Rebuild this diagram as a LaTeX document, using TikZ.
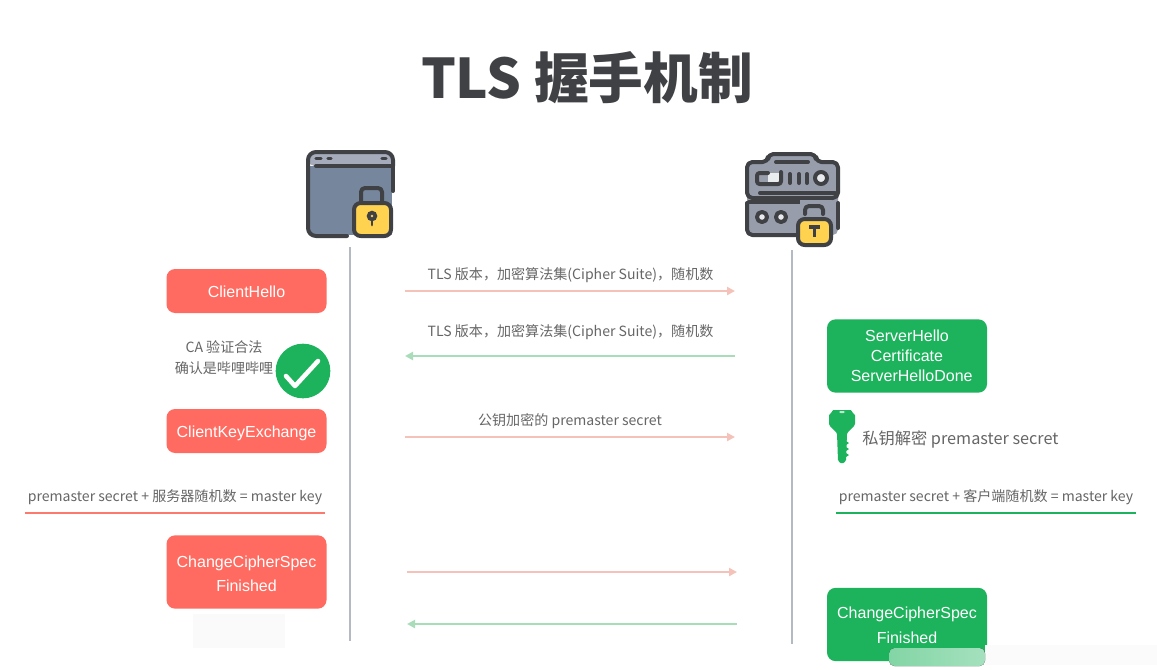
\documentclass[tikz,border=0pt]{standalone}
\usepackage{fontspec}
\setmainfont{Noto Sans CJK SC}
\newfontfamily\btnfont{Liberation Sans}
\usetikzlibrary{arrows.meta}
\definecolor{redbox}{HTML}{FF6B60}
\definecolor{greenbox}{HTML}{1DB35C}
\definecolor{pinkline}{HTML}{F4C2B8}
\definecolor{mintline}{HTML}{A9DDB9}
\definecolor{lifeline}{HTML}{B4BAC4}
\definecolor{ink}{HTML}{3F4145}
\definecolor{labelgray}{HTML}{666666}
\definecolor{iconblue}{HTML}{76869C}
\definecolor{iconlight}{HTML}{A5ABBA}
\definecolor{icongray}{HTML}{989DAC}
\definecolor{lockyellow}{HTML}{FFD24F}
\newcommand{\oneline}[1]{\raisebox{0pt}[10pt][0pt]{#1}}
\newcommand{\firstline}[2]{\raisebox{0pt}[#1][0pt]{#2}}
\newcommand{\lastline}[1]{\raisebox{0pt}[0pt][0pt]{#1}}
\tikzset{
  x=0.75pt,y=-0.75pt,
  redbtn/.style={fill=redbox,rounded corners=6.5pt,text=white,align=center,font=\btnfont\fontsize{12}{18}\selectfont,inner sep=0pt,anchor=center},
  greenbtn/.style={fill=greenbox,rounded corners=6.5pt,text=white,align=center,font=\btnfont\fontsize{12}{15}\selectfont,inner sep=0pt,anchor=center},
  msg/.style={text=labelgray,font=\fontsize{10.55}{12}\selectfont,anchor=center,inner sep=0pt},
  lifeln/.style={draw=lifeline,line width=1.9pt},
  toright/.style={draw=pinkline,line width=1.5pt,-{Triangle[length=6pt,width=6pt]}},
  togreen/.style={draw=mintline,line width=1.5pt,-{Triangle[length=6pt,width=6pt]}},
  icon/.style={draw=ink,line width=3pt,line cap=round,line join=round},
}
\begin{document}
\begin{tikzpicture}
\useasboundingbox (0,0) rectangle (1157,669);
\fill[white] (0,0) rectangle (1157,669);
% title
\node[text=ink,anchor=center,inner sep=0pt,font=\bfseries\fontsize{41}{50}\selectfont] (title) at (587,78) {TLS 握手机制};

% browser icon
\fill[iconblue] (309,166) rectangle (392,235);
\fill[iconlight,rounded corners=4pt] (309,152) rectangle (392,166);
\draw[icon,rounded corners=6pt] (347,236) -- (308,236) -- (308,152) -- (393,152) -- (393,166);
\draw[icon] (393,166) -- (393,191);
\draw[icon] (316,166) -- (392,166);
\draw[icon,line width=2.6pt] (316,158.5) -- (321,158.5) (328,158.5) -- (331,158.5) (382,158.5) -- (386,158.5);
\draw[icon,rounded corners=3pt] (361,205) -- (361,188) -- (382,188) -- (382,205);
\draw[icon,fill=lockyellow,rounded corners=5pt] (354,203) rectangle (391,236);
\fill[ink] (372,216) circle (4pt);
\draw[ink,line width=2pt,line cap=round] (372,218) -- (372,225);
\fill[lockyellow] (372,216) circle (1.1pt);

% server icon
\fill[icongray,rounded corners=4pt] (747,162) rectangle (838,235);
\fill[icongray] (768,154) rectangle (816,163);
\draw[icon,rounded corners=4pt] (768,162) -- (768,154) -- (816,154) -- (816,162) -- (838,162) -- (838,198) -- (747,198) -- (747,162) -- cycle;
\draw[icon,rounded corners=4pt] (747,203) -- (747,235) -- (797,235);
\draw[icon] (760,193) -- (835,193);
\draw[icon] (749,202) -- (800,202);
\draw[icon] (838,203) -- (838,228);
\draw[icon] (776,162) -- (808,162);
\fill[white!85!iconblue] (768,173) rectangle (781,184);
\draw[icon,rounded corners=2pt] (768,173) -- (757,173) -- (757,184) -- (781,184) -- (781,172);
\draw[icon] (790,174) -- (790,183) (799,174) -- (799,183) (807,174) -- (807,183);
\draw[icon,fill=white!75!iconlight] (821,178) circle (4.5pt);
\draw[icon,fill=white!75!iconlight] (762,217) circle (3.8pt);
\draw[icon,fill=white!75!iconlight] (781,217) circle (3.8pt);
\fill[icongray] (800,200) rectangle (832,217);
\draw[icon,rounded corners=3pt] (805,214) -- (805,206) -- (823,206) -- (823,214);
\draw[icon,fill=lockyellow,rounded corners=5pt] (798,219) rectangle (831,245);
\draw[ink,line width=2.3pt] (809,227) -- (820,227) (814.5,227) -- (814.5,237);

% lifelines
\coordinate (cltop) at (350,247);
\coordinate (clbot) at (350,641);
\coordinate (svtop) at (792,250);
\coordinate (svbot) at (792,644);
\draw[lifeln] (cltop) -- (clbot);
\draw[lifeln] (svtop) -- (svbot);

% left boxes
\node[redbtn,minimum width=120pt,minimum height=33pt] (clienthello) at (246.5,291) {\oneline{ClientHello}};
\node[redbtn,minimum width=120pt,minimum height=33pt] (ckx) at (246.5,431) {\oneline{ClientKeyExchange}};
\node[redbtn,minimum width=120pt,minimum height=55pt] (ccsc) at (246.5,572) {\firstline{10.5pt}{ChangeCipherSpec}\\\lastline{Finished}};

% right boxes
\node[greenbtn,minimum width=120pt,minimum height=55pt] (shello) at (907,356) {ServerHello\\Certificate\\\hspace*{7pt}ServerHelloDone};
\node[greenbtn,minimum width=120pt,minimum height=55pt] (ccss) at (907,624.5) {\firstline{9pt}{ChangeCipherSpec}\\[3.75pt]\lastline{Finished}};

% check
\node[fill=greenbox,circle,minimum size=41pt,inner sep=0pt] (check) at (303,371) {};
\draw[white,line width=3.4pt,line cap=round,line join=round] (286,376) -- (295,386) -- (318,361);
\node[msg,align=center,font=\fontsize{10.55}{15.75}\selectfont] (ca) at (224,358) {CA 验证合法\\确认是哔哩哔哩};

% messages
\coordinate (a1) at (405,291); \coordinate (b1) at (735,291);
\coordinate (a2) at (405,356); \coordinate (b2) at (735,356);
\coordinate (a3) at (405,437); \coordinate (b3) at (735,437);
\coordinate (a4) at (407,572); \coordinate (b4) at (737,572);
\coordinate (a5) at (407,624); \coordinate (b5) at (737,624);
\draw[toright] (a1) -- (b1);
\draw[togreen] (b2) -- (a2);
\draw[toright] (a3) -- (b3);
\draw[toright] (a4) -- (b4);
\draw[togreen] (b5) -- (a5);
\node[msg] (m1) at (570.5,275) {TLS 版本，加密算法集(Cipher Suite)，随机数};
\node[msg] (m2) at (570.5,332.5) {TLS 版本，加密算法集(Cipher Suite)，随机数};
\node[msg] (m3) at (570,421) {公钥加密的 premaster secret};

% key
\fill[greenbox,rounded corners=1pt] (829,414) -- (832,413) -- (832,410) -- (852,410) -- (852,413) -- (855,414) -- (855,425) -- (847,433) -- (846,461) -- (842,464) -- (838,461) -- (837,433) -- (829,425) -- cycle;
\fill[greenbox] (846,441) -- (849,443) -- (846,445) -- cycle (846,447) -- (849,449) -- (846,451) -- cycle (846,453) -- (849,455) -- (846,457) -- cycle;
\fill[white!70!greenbox,rounded corners=1pt] (839,411) rectangle (845,413);
\node[anchor=west,inner sep=0pt,text=labelgray,font=\fontsize{12.2}{14}\selectfont] (priv) at (862,439) {私钥解密 premaster secret};

% master key
\node[msg] (lkey) at (175,497) {premaster secret + 服务器随机数 = master key};
\node[msg] (rkey) at (986,497) {premaster secret + 客户端随机数 = master key};
\coordinate (l1) at (25,513); \coordinate (l2) at (325,513);
\coordinate (r1) at (836,513); \coordinate (r2) at (1136,513);
\draw[draw=redbox!85!pinkline,line width=1.5pt] (l1) -- (l2);
\draw[draw=greenbox,line width=1.5pt] (r1) -- (r2);

% watermark remnants
\fill[gray!4] (193,614) rectangle (285,648);
\fill[gray!3] (985,645) rectangle (1157,665);
\fill[left color=greenbox!55!white,right color=greenbox!40!white,rounded corners=4pt] (889,648) rectangle (985,666);
\end{tikzpicture}
\end{document}
